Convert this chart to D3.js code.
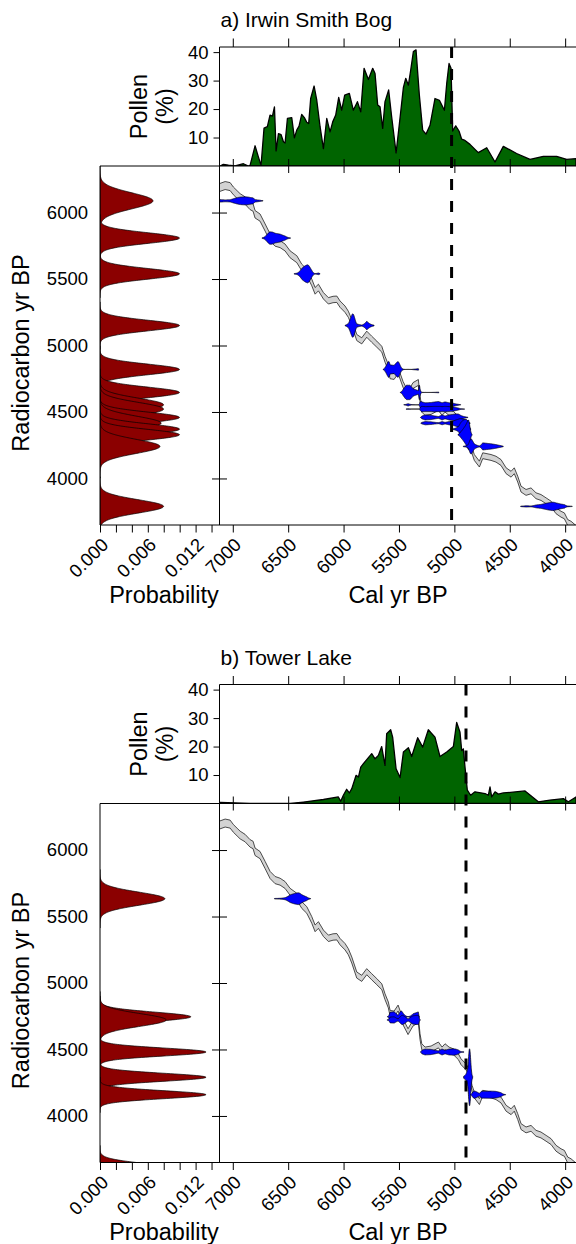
<!DOCTYPE html>
<html>
<head>
<meta charset="utf-8">
<script src="https://cdn.jsdelivr.net/npm/d3@7"></script>
<style>
body { margin: 0; background: #fff; }
svg { display: block; font-family: "Liberation Sans", Arial, Helvetica, sans-serif; }
</style>
</head>
<body>
<div id="chart"></div>
<script>
// calibration curve: cal yr BP, radiocarbon yr BP, 1 sigma
var curveCal = [7119, 7069, 7024, 6995, 6961, 6934, 6889, 6844, 6817, 6799,
    6754, 6708, 6663, 6618, 6573, 6528, 6483, 6422, 6377, 6332,
    6287, 6257, 6227, 6182, 6137, 6095, 6061, 6032, 5987, 5957,
    5926, 5881, 5836, 5791, 5746, 5700, 5655, 5626, 5596, 5580,
    5544, 5508, 5463, 5418, 5373, 5325, 5310, 5294, 5264, 5210,
    5144, 5111, 5084, 5048, 5009, 4964, 4940, 4897, 4878, 4840,
    4820, 4774, 4744, 4669, 4624, 4579, 4533, 4488, 4459, 4428,
    4398, 4353, 4308, 4263, 4218, 4172, 4127, 4082, 4037, 4007,
    3977, 3947, 3902]
var curveC14 = [6188, 6203, 6195, 6163, 6135, 6113, 6090, 6050, 6038, 5987,
    5962, 5887, 5812, 5774, 5762, 5737, 5686, 5649, 5586, 5549,
    5474, 5411, 5436, 5374, 5336, 5346, 5348, 5311, 5273, 5235,
    5173, 5060, 5035, 5085, 5047, 5010, 4972, 4897, 4835, 4772,
    4767, 4812, 4707, 4634, 4699, 4722, 4596, 4521, 4496, 4504,
    4534, 4496, 4521, 4496, 4483, 4446, 4408, 4371, 4346, 4208,
    4158, 4108, 4171, 4158, 4145, 4120, 4058, 4032, 4058, 3995,
    3920, 3895, 3907, 3870, 3857, 3832, 3807, 3757, 3731, 3719,
    3669, 3656, 3624]
var curveErr = [30, 30, 30, 29, 29, 29, 28, 28, 28, 28,
    27, 27, 27, 27, 26, 26, 26, 26, 25, 25,
    25, 25, 25, 24, 24, 24, 24, 24, 24, 23,
    23, 23, 23, 23, 23, 23, 22, 22, 22, 22,
    22, 22, 22, 22, 22, 22, 22, 22, 22, 22,
    22, 22, 22, 22, 22, 22, 22, 22, 22, 22,
    22, 22, 22, 22, 22, 22, 22, 22, 22, 22,
    22, 22, 22, 22, 22, 22, 22, 22, 22, 22,
    22, 22, 22]

var calTicks = [7000, 6500, 6000, 5500, 5000, 4500, 4000]
var c14Ticks = [6000, 5500, 5000, 4500, 4000]
var pollenTicks = [10, 20, 30, 40]
var probTicks = [0, 0.002, 0.004, 0.006, 0.008, 0.010, 0.012, 0.014]
var probLabels = ["0.000", "", "", "0.006", "", "", "0.012", ""]

// a) Irwin Smith Bog
var irwinDates = [6088, 5808, 5539, 5150, 4820, 4647, 4554, 4522, 4459, 4416, 4371, 4329, 4241, 3790]
var irwinErrors = [60, 40, 40, 40, 40, 40, 50, 50, 40, 52, 40, 40, 53, 50]
var irwinPollenCal = [7115, 7085, 7039, 6979, 6904, 6859, 6844, 6799, 6769, 6745,
    6718, 6688, 6664, 6642, 6624, 6609, 6588, 6564, 6543, 6528,
    6507, 6468, 6444, 6423, 6402, 6378, 6354, 6333, 6315, 6297,
    6266, 6242, 6212, 6182, 6152, 6122, 6098, 6071, 6044, 6017,
    5990, 5948, 5912, 5875, 5845, 5815, 5776, 5737, 5716, 5692,
    5671, 5647, 5626, 5593, 5566, 5526, 5496, 5460, 5439, 5415,
    5394, 5370, 5346, 5316, 5286, 5256, 5220, 5175, 5135, 5090,
    5069, 5048, 5030, 5015, 4988, 4958, 4934, 4910, 4859, 4784,
    4708, 4633, 4558, 4438, 4317, 4197, 4077, 3986, 3902]
var irwinPollen = [0, 0.6, 0.3, 0, 0.8, 0, 0.2, 7.1, 3.2, 0.2,
    13.3, 13.8, 17.9, 17.5, 20.8, 5.3, 11.4, 11.0, 8.5, 8.1,
    16.7, 17.0, 9.9, 12.6, 14.0, 18.1, 17.0, 15.4, 14.9, 23.7,
    28.1, 23.1, 13.8, 6.1, 16.7, 12.0, 15.5, 17.9, 24.1, 19.6,
    24.9, 25.5, 19.6, 22.6, 19.0, 34.3, 30.4, 34.3, 32.5, 21.4,
    20.8, 13.2, 22.6, 26.7, 17.3, 4.6, 14.9, 27.6, 30.8, 28.4,
    33.7, 40.2, 40.8, 24.9, 12.6, 11.2, 14.3, 23.7, 23.1, 19.6,
    29.0, 36.0, 34.3, 12.3, 14.1, 12.3, 9.4, 9.1, 7.6, 4.7,
    6.4, 1.4, 6.9, 4.4, 2.3, 3.4, 3.4, 2.3, 2.6]
var irwinChange = 5025

// b) Tower Lake
var towerDates = [5634, 4746, 4722, 4481, 4291, 4160, 3600]
var towerErrors = [49, 35, 48, 30, 30, 30, 40]
var towerPollenCal = [7114, 6844, 6483, 6362, 6182, 6047, 6026, 6002, 5972, 5948,
    5926, 5887, 5866, 5845, 5821, 5746, 5716, 5686, 5656, 5626,
    5611, 5575, 5557, 5526, 5490, 5460, 5415, 5385, 5331, 5286,
    5235, 5175, 5130, 5069, 5009, 4979, 4949, 4934, 4919, 4904,
    4883, 4853, 4814, 4723, 4693, 4678, 4663, 4633, 4603, 4558,
    4362, 4242, 4137, 4016, 3971, 3902]
var towerPollen = [0.4, 0, 0, 0.5, 1.4, 2.3, 0.8, 2.9, 5.0, 3.7,
    5.2, 9.9, 9.3, 12.8, 14.0, 17.5, 15.7, 16.9, 20.0, 13.4,
    24.5, 25.9, 23.3, 12.2, 9.1, 18.1, 19.6, 16.5, 23.1, 19.8,
    25.9, 23.3, 16.5, 18.1, 20.0, 28.5, 25.0, 18.6, 19.2, 12.8,
    4.7, 2.9, 4.1, 3.5, 2.9, 5.8, 2.3, 4.1, 3.3, 3.7,
    4.4, 0.6, 1.2, 1.7, 0.6, 2.3]
var towerChange = 4895

var sites = [
    {id: "a", title: "a) Irwin Smith Bog", dates: irwinDates, errors: irwinErrors,
        pollenCal: irwinPollenCal, pollen: irwinPollen, change: irwinChange, top: 0},
    {id: "b", title: "b) Tower Lake", dates: towerDates, errors: towerErrors,
        pollenCal: towerPollenCal, pollen: towerPollen, change: towerChange, top: 637.5}
]

var x = d3.scaleLinear().domain([7120, 3902]).range([219.5, 576])
var y = d3.scaleLinear().domain([3650, 6350]).range([525, 166])
var yp = d3.scaleLinear().domain([0, 41.8]).range([166, 47])
var xp = d3.scaleLinear().domain([0, 0.015]).range([100, 219.5])
var curveAt = d3.scaleLinear().domain(curveCal).range(curveC14)
var errAt = d3.scaleLinear().domain(curveCal).range(curveErr)
var calYears = d3.range(3902, 7120)
var BLUE_SCALE = 850
var yearFormat = d3.format("d")

function calibrate(age, sd) {
    var pts = calYears.map(function(c) {
        var s = Math.sqrt(sd * sd + errAt(c) * errAt(c))
        var z = (curveAt(c) - age) / s
        return {cal: c, z: z, p: Math.exp(-0.5 * z * z) / s}
    })
    var total = d3.sum(pts, function(d) { return d.p })
    pts.forEach(function(d) { d.p = d.p / total })
    var inside = pts.filter(function(d) { return Math.abs(d.z) < 2.6 })
    var lo = d3.min(inside, function(d) { return d.cal })
    var hi = d3.max(inside, function(d) { return d.cal })
    return pts.filter(function(d) { return d.cal >= lo && d.cal <= hi })
}

function density(age, sd) {
    return d3.range(age - 4.5 * sd, age + 4.5 * sd, 2).map(function(v) {
        var z = (v - age) / sd
        return {c14: v, p: Math.exp(-0.5 * z * z) / (sd * Math.sqrt(2 * Math.PI))}
    })
}

function plain(a) {
    a.select(".domain").remove()
    a.attr("font-size", 18.5).attr("font-family", null)
}

function slant(a) {
    a.selectAll(".tick text")
        .attr("y", null).attr("dy", null)
        .attr("text-anchor", "end")
        .attr("transform", "translate(9,21) rotate(-45)")
}

var svg = d3.select("#chart").append("svg")
    .attr("width", 576)
    .attr("height", 1244)

sites.forEach(function(site) {
    var g = svg.append("g").attr("transform", "translate(0," + site.top + ")")
    var defs = g.append("defs")
    defs.append("clipPath").attr("id", "clip-pollen-" + site.id)
      .append("rect").attr("x", 219.5).attr("y", 47).attr("width", 360).attr("height", 119)
    defs.append("clipPath").attr("id", "clip-main-" + site.id)
      .append("rect").attr("x", 219.5).attr("y", 166).attr("width", 360).attr("height", 359)
    defs.append("clipPath").attr("id", "clip-prob-" + site.id)
      .append("rect").attr("x", 100).attr("y", 166).attr("width", 119.5).attr("height", 359)

    // pollen curve
    var pollenRows = site.pollenCal.map(function(c, i) { return {cal: c, v: site.pollen[i]} })
    g.append("path")
        .datum(pollenRows)
        .attr("clip-path", "url(#clip-pollen-" + site.id + ")")
        .attr("fill", "#006400")
        .attr("stroke", "#000")
        .attr("stroke-width", 1.3)
        .attr("stroke-linejoin", "round")
        .attr("d", d3.area()
            .x(function(d) { return x(d.cal) })
            .y0(yp(0))
            .y1(function(d) { return yp(d.v) }))

    // calibration curve band
    var curveRows = curveCal.map(function(c, i) { return {cal: c, c14: curveC14[i], err: curveErr[i]} })
    var main = g.append("g").attr("clip-path", "url(#clip-main-" + site.id + ")")
    main.append("path")
        .datum(curveRows)
        .attr("fill", "#d3d3d3")
        .attr("d", d3.area()
            .x(function(d) { return x(d.cal) })
            .y0(function(d) { return y(d.c14 - d.err) })
            .y1(function(d) { return y(d.c14 + d.err) }))
    ;[-1, 1].forEach(function(side) {
        main.append("path")
            .datum(curveRows)
            .attr("fill", "none")
            .attr("stroke", "#222")
            .attr("stroke-width", 0.8)
            .attr("d", d3.line()
                .x(function(d) { return x(d.cal) })
                .y(function(d) { return y(d.c14 + side * d.err) }))
    })

    // calibrated dates, only those that fall inside the radiocarbon range
    site.dates.forEach(function(age, i) {
        if (age < y.domain()[0]) return
        var cal = calibrate(age, site.errors[i])
        main.append("path")
            .datum(cal)
            .attr("fill", "#0000ff")
            .attr("stroke", "#000")
            .attr("stroke-width", 0.7)
            .attr("d", d3.area()
                .x(function(d) { return x(d.cal) })
                .y0(function(d) { return y(age) + d.p * BLUE_SCALE })
                .y1(function(d) { return y(age) - d.p * BLUE_SCALE }))
    })

    // radiocarbon probability
    var prob = g.append("g").attr("clip-path", "url(#clip-prob-" + site.id + ")")
    site.dates.forEach(function(age, i) {
        prob.append("path")
            .datum(density(age, site.errors[i]))
            .attr("fill", "#8b0000")
            .attr("stroke", "#000")
            .attr("stroke-width", 0.7)
            .attr("d", d3.area()
                .y(function(d) { return y(d.c14) })
                .x0(xp(0))
                .x1(function(d) { return xp(d.p) }))
    })

    // frames
    var frame = [[219.5, 47, 219.5, 525], [219.5, 47, 576, 47], [100, 166, 576, 166],
        [100, 525, 576, 525], [100, 166, 100, 525]]
    g.selectAll(".frame").data(frame).enter().append("line")
        .attr("class", "frame")
        .attr("x1", function(d) { return d[0] })
        .attr("y1", function(d) { return d[1] })
        .attr("x2", function(d) { return d[2] })
        .attr("y2", function(d) { return d[3] })
        .attr("stroke", "#000")
        .attr("stroke-width", 1)

    // axes
    g.append("g").attr("transform", "translate(0,47)")
        .call(d3.axisTop(x).tickValues(calTicks).tickSize(8.5).tickFormat(""))
        .call(plain)
    g.append("g").attr("transform", "translate(0,166)")
        .call(d3.axisTop(x).tickValues(calTicks).tickSize(7).tickFormat(""))
        .call(plain)
        .call(function(a) { a.selectAll(".tick line").attr("y1", 7) })
    g.append("g").attr("transform", "translate(219.5,0)")
        .call(d3.axisLeft(yp).tickValues(pollenTicks).tickSize(6).tickPadding(5))
        .call(plain)
    g.append("g").attr("transform", "translate(219.5,0)")
        .call(d3.axisLeft(y).tickValues(c14Ticks).tickSize(7.5).tickFormat(""))
        .call(plain)
        .call(function(a) { a.selectAll(".tick line").attr("x1", 7.5) })
    g.append("g").attr("transform", "translate(100,0)")
        .call(d3.axisLeft(y).tickValues(c14Ticks).tickSize(0).tickPadding(12).tickFormat(yearFormat))
        .call(plain)
    g.append("g").attr("transform", "translate(0,525)")
        .call(d3.axisBottom(x).tickValues(calTicks).tickSize(7.5).tickFormat(yearFormat))
        .call(plain)
        .call(slant)
    g.append("g").attr("transform", "translate(0,525)")
        .call(d3.axisBottom(xp).tickValues(probTicks).tickSize(7.5)
            .tickFormat(function(d, i) { return probLabels[i] }))
        .call(plain)
        .call(slant)

    // pollen change line
    g.append("line")
        .attr("x1", x(site.change)).attr("x2", x(site.change))
        .attr("y1", 47).attr("y2", 525)
        .attr("stroke", "#000")
        .attr("stroke-width", 3)
        .attr("stroke-dasharray", "11,11")

    // labels
    g.append("text").attr("x", 220.5).attr("y", 27)
        .attr("font-size", 21).text(site.title)
    g.append("text").attr("transform", "translate(147,106.5) rotate(-90)")
        .attr("text-anchor", "middle").attr("font-size", 23.5).text("Pollen")
    g.append("text").attr("transform", "translate(173,106.5) rotate(-90)")
        .attr("text-anchor", "middle").attr("font-size", 23.5).text("(%)")
    g.append("text").attr("transform", "translate(28.5,353) rotate(-90)")
        .attr("text-anchor", "middle").attr("font-size", 23.5).text("Radiocarbon yr BP")
    g.append("text").attr("x", 164).attr("y", 602.5)
        .attr("text-anchor", "middle").attr("font-size", 23.5).text("Probability")
    g.append("text").attr("x", 398).attr("y", 602.5)
        .attr("text-anchor", "middle").attr("font-size", 23.5).text("Cal yr BP")
})
</script>
</body>
</html>
